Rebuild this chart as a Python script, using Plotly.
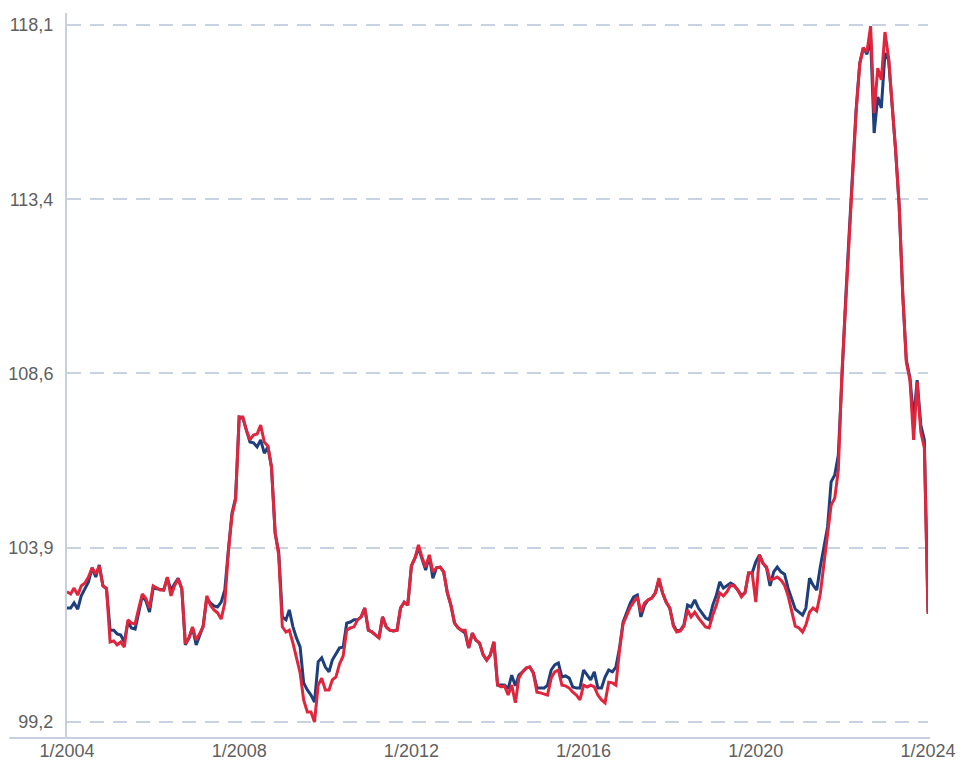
import pandas as pd
import plotly.graph_objects as go

# Monthly index values, Jan 2004 .. Jan 2024
series_navy = [
    102.29, 102.29, 102.43, 102.26, 102.62, 102.83, 103.00, 103.38, 103.13, 103.46, 102.89, 102.81,
    101.69, 101.69, 101.59, 101.56, 101.37, 101.91, 101.75, 101.72, 102.18, 102.62, 102.48, 102.18,
    102.83, 102.81, 102.78, 102.78, 103.10, 102.78, 102.94, 103.10, 102.81, 101.29, 101.48, 101.75,
    101.29, 101.56, 101.80, 102.56, 102.43, 102.35, 102.32, 102.45, 102.78, 103.86, 104.87, 105.27,
    107.47, 107.44, 107.12, 106.79, 106.77, 106.66, 106.85, 106.49, 106.66, 106.11, 104.32, 103.81,
    102.05, 101.97, 102.24, 101.78, 101.48, 101.23, 100.26, 100.07, 99.93, 99.74, 100.83, 100.94,
    100.69, 100.56, 100.88, 101.07, 101.21, 101.23, 101.88, 101.91, 101.97, 101.97, 102.05, 102.29,
    101.69, 101.64, 101.56, 101.48, 102.05, 101.78, 101.69, 101.67, 101.69, 102.29, 102.45, 102.37,
    103.43, 103.65, 103.92, 103.59, 103.32, 103.70, 103.10, 103.38, 103.40, 103.27, 102.70, 102.37,
    101.88, 101.75, 101.69, 101.61, 101.21, 101.61, 101.42, 101.34, 101.02, 100.88, 101.02, 101.37,
    100.20, 100.20, 100.20, 100.10, 100.47, 100.18, 100.47, 100.56, 100.66, 100.69, 100.53, 100.12,
    100.12, 100.12, 100.20, 100.61, 100.75, 100.80, 100.42, 100.45, 100.39, 100.15, 100.12, 100.12,
    100.61, 100.47, 100.34, 100.56, 100.12, 100.12, 100.42, 100.61, 100.56, 100.69, 101.21, 101.91,
    102.16, 102.43, 102.59, 102.64, 102.05, 102.37, 102.51, 102.56, 102.70, 103.05, 102.70, 102.45,
    102.29, 101.83, 101.67, 101.69, 101.83, 102.37, 102.32, 102.51, 102.29, 102.16, 102.02, 101.97,
    102.37, 102.64, 103.00, 102.83, 102.89, 102.97, 102.91, 102.78, 102.64, 102.70, 103.24, 103.24,
    103.54, 103.73, 103.51, 103.38, 102.89, 103.27, 103.40, 103.27, 103.21, 102.83, 102.51, 102.26,
    102.18, 102.10, 102.29, 103.10, 102.91, 102.78, 103.40, 104.00, 104.49, 105.71, 105.90, 106.44,
    108.74, 110.64, 112.32, 114.06, 115.79, 117.07, 117.48, 117.31, 117.75, 115.17, 116.15, 115.85,
    117.34, 117.15, 116.07, 114.71, 113.22, 110.78, 109.02, 108.53, 107.39, 108.47, 107.25, 106.85,
    102.18,
]

series_red = [
    102.73, 102.67, 102.83, 102.64, 102.89, 102.97, 103.13, 103.38, 103.21, 103.43, 102.89, 102.83,
    101.37, 101.40, 101.29, 101.37, 101.23, 101.97, 101.88, 101.86, 102.29, 102.67, 102.54, 102.29,
    102.89, 102.83, 102.78, 102.78, 103.13, 102.62, 102.89, 103.08, 102.81, 101.32, 101.48, 101.78,
    101.42, 101.61, 101.78, 102.62, 102.37, 102.24, 102.16, 101.99, 102.43, 103.81, 104.81, 105.22,
    107.47, 107.47, 107.12, 106.85, 106.98, 107.01, 107.25, 106.79, 106.68, 106.11, 104.32, 103.73,
    101.78, 101.64, 101.69, 101.34, 100.96, 100.53, 99.80, 99.47, 99.47, 99.20, 100.20, 100.39,
    100.07, 100.07, 100.34, 100.42, 100.77, 100.99, 101.69, 101.75, 101.78, 101.97, 102.05, 102.29,
    101.69, 101.64, 101.56, 101.48, 102.05, 101.78, 101.69, 101.67, 101.69, 102.29, 102.45, 102.37,
    103.43, 103.65, 104.00, 103.65, 103.40, 103.73, 103.27, 103.38, 103.40, 103.27, 102.70, 102.37,
    101.88, 101.75, 101.69, 101.69, 101.21, 101.61, 101.42, 101.34, 101.02, 100.88, 101.02, 101.37,
    100.20, 100.15, 100.18, 99.93, 100.20, 99.72, 100.39, 100.56, 100.66, 100.69, 100.53, 100.01,
    99.99, 99.96, 99.93, 100.39, 100.56, 100.61, 100.20, 100.18, 100.12, 100.01, 99.93, 99.80,
    100.20, 100.15, 100.20, 100.15, 99.93, 99.80, 99.72, 100.28, 100.26, 100.20, 101.15, 101.86,
    102.10, 102.32, 102.45, 102.59, 102.18, 102.43, 102.51, 102.56, 102.70, 103.10, 102.70, 102.45,
    102.29, 101.80, 101.64, 101.67, 101.80, 102.24, 102.05, 102.18, 102.02, 101.91, 101.78, 101.75,
    102.10, 102.37, 102.70, 102.62, 102.73, 102.91, 102.89, 102.78, 102.59, 102.70, 103.24, 103.24,
    102.45, 103.73, 103.51, 103.40, 103.05, 103.08, 103.13, 103.05, 102.91, 102.62, 102.18, 101.80,
    101.75, 101.64, 101.83, 102.18, 102.29, 102.21, 102.67, 103.46, 104.32, 105.08, 105.27, 106.03,
    108.69, 110.59, 112.22, 113.98, 115.74, 117.04, 117.48, 117.37, 118.07, 115.71, 116.93, 116.61,
    117.91, 117.20, 116.07, 114.71, 113.22, 110.78, 108.96, 108.47, 106.85, 108.42, 107.06, 106.63,
    102.13,
]

months = pd.date_range("2004-01-01", periods=len(series_navy), freq="MS")

y_tick_values = [99.2, 103.925, 108.65, 113.375, 118.1]
y_tick_labels = ["99,2", "103,9", "108,6", "113,4", "118,1"]
x_tick_values = ["2004-01-01", "2008-01-01", "2012-01-01", "2016-01-01", "2020-01-01", "2024-01-01"]
x_tick_labels = ["1/2004", "1/2008", "1/2012", "1/2016", "1/2020", "1/2024"]

NAVY = "#1d3f7c"
RED = "#e0263c"
AXIS = "#c6d0e1"
GRID = "#c9d2e2"
TEXT = "#5f5f5f"
FONT = "Liberation Sans, Arial, sans-serif"

fig = go.Figure()
fig.add_trace(go.Scatter(x=months, y=series_navy, mode="lines",
                         line=dict(color=NAVY, width=3), name="navy", hoverinfo="x+y"))
fig.add_trace(go.Scatter(x=months, y=series_red, mode="lines",
                         line=dict(color=RED, width=3), name="red", hoverinfo="x+y"))

fig.update_layout(
    width=960, height=765,
    margin=dict(l=67, r=32, t=13, b=27, pad=0, autoexpand=False),
    paper_bgcolor="white", plot_bgcolor="white",
    showlegend=False,
    font=dict(family=FONT, size=18, color=TEXT),
)
fig.update_xaxes(
    type="date", automargin=False,
    range=["2004-01-01", "2024-01-01"],
    tickvals=x_tick_values, ticktext=x_tick_labels,
    showgrid=False, zeroline=False, showline=False,
    ticks="", ticklabelstandoff=0,
    tickfont=dict(family=FONT, size=18, color=TEXT),
)
fig.update_yaxes(
    automargin=False,
    range=[98.766, 118.425],
    tickvals=y_tick_values, ticktext=y_tick_labels,
    showgrid=True, gridcolor=GRID, gridwidth=1.5, griddash="14px,9px",
    zeroline=False,
    showline=True, linecolor=AXIS, linewidth=2,
    ticks="", ticklabelstandoff=8,
    tickfont=dict(family=FONT, size=18, color=TEXT),
)
# bottom baseline that extends to the left of the value axis
fig.add_shape(type="line", xref="paper", yref="paper",
              x0=-0.067, x1=1.0025, y0=0, y1=0,
              line=dict(color=AXIS, width=2), layer="below")

fig.write_html(
    "out.html",
    config={"displayModeBar": False},
    post_script="document.body.style.margin='0';document.body.style.padding='0';"
                "document.body.style.overflow='hidden';",
)
